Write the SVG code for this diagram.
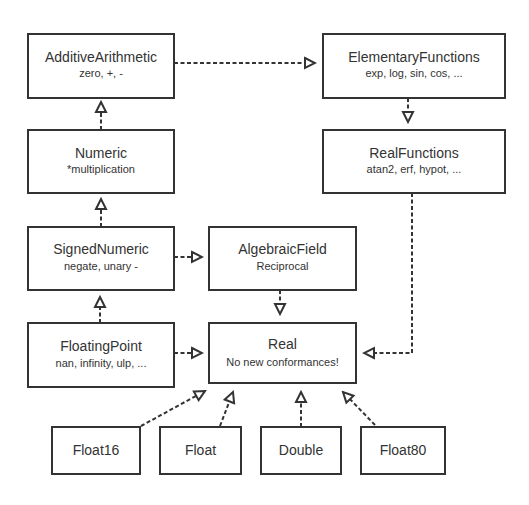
<svg xmlns="http://www.w3.org/2000/svg" width="529" height="505" viewBox="0 0 529 505">
<style>
.box{fill:#fff;stroke:#333;stroke-width:2}
.t{font-family:"Liberation Sans",Arial,sans-serif;font-size:14px;fill:#333;text-anchor:middle}
.s{font-family:"Liberation Sans",Arial,sans-serif;font-size:11px;fill:#333;text-anchor:middle}
.c{fill:none;stroke:#333;stroke-width:2;stroke-dasharray:4 2.5;marker-end:url(#tri)}
</style>
<defs>
<marker id="tri" viewBox="-2 -2 14 14" refX="10" refY="5" markerWidth="14" markerHeight="14" markerUnits="userSpaceOnUse" orient="auto">
<path d="M0,0 L10,5 L0,10 Z" fill="#fff" stroke="#333" stroke-width="2" stroke-linejoin="miter"/>
</marker>
</defs>
<rect width="529" height="505" fill="#fff"/>
<g id="connectors">
<path class="c" d="M101,130 V102"/>
<path class="c" d="M101,227 V199"/>
<path class="c" d="M100,323 V297"/>
<path class="c" d="M174,63 H315"/>
<path class="c" d="M408,98 V122"/>
<path class="c" d="M174,257 H202"/>
<path class="c" d="M174,353 H202"/>
<path class="c" d="M280,290 V314"/>
<path class="c" d="M412,193 V353 H364"/>
<path class="c" d="M141,426 L205,391"/>
<path class="c" d="M220,426 L233,392"/>
<path class="c" d="M301,427 V392"/>
<path class="c" d="M375,425 L343,392"/>
</g>
<g id="AdditiveArithmetic">
<rect class="box" x="28" y="34" width="146" height="64"/>
<text class="t" x="101" y="62">AdditiveArithmetic</text>
<text class="s" x="101" y="77">zero, +, -</text>
</g>
<g id="Numeric">
<rect class="box" x="28" y="130" width="146" height="63"/>
<text class="t" x="101" y="158">Numeric</text>
<text class="s" x="101" y="173">*multiplication</text>
</g>
<g id="ElementaryFunctions">
<rect class="box" x="323" y="34" width="182" height="64"/>
<text class="t" x="414" y="62">ElementaryFunctions</text>
<text class="s" x="414" y="77">exp, log, sin, cos, ...</text>
</g>
<g id="RealFunctions">
<rect class="box" x="323" y="130" width="182" height="63"/>
<text class="t" x="414" y="158">RealFunctions</text>
<text class="s" x="414" y="173">atan2, erf, hypot, ...</text>
</g>
<g id="SignedNumeric">
<rect class="box" x="28" y="227" width="146" height="63"/>
<text class="t" x="101" y="254">SignedNumeric</text>
<text class="s" x="101" y="270">negate, unary -</text>
</g>
<g id="AlgebraicField">
<rect class="box" x="209" y="227" width="147" height="63"/>
<text class="t" x="282.5" y="254">AlgebraicField</text>
<text class="s" x="282.5" y="270">Reciprocal</text>
</g>
<g id="FloatingPoint">
<rect class="box" x="28" y="323" width="146" height="64"/>
<text class="t" x="101" y="351">FloatingPoint</text>
<text class="s" x="101" y="367">nan, infinity, ulp, ...</text>
</g>
<g id="Real">
<rect class="box" x="209" y="323" width="147" height="60"/>
<text class="t" x="282.5" y="349">Real</text>
<text class="s" x="282.5" y="366">No new conformances!</text>
</g>
<g id="Float16">
<rect class="box" x="52" y="427" width="88" height="47"/>
<text class="t" x="96" y="455">Float16</text>
</g>
<g id="Float">
<rect class="box" x="160" y="427" width="81" height="47"/>
<text class="t" x="200.5" y="455">Float</text>
</g>
<g id="Double">
<rect class="box" x="261" y="427" width="80" height="47"/>
<text class="t" x="301" y="455">Double</text>
</g>
<g id="Float80">
<rect class="box" x="361" y="427" width="84" height="47"/>
<text class="t" x="403" y="455">Float80</text>
</g>
</svg>
